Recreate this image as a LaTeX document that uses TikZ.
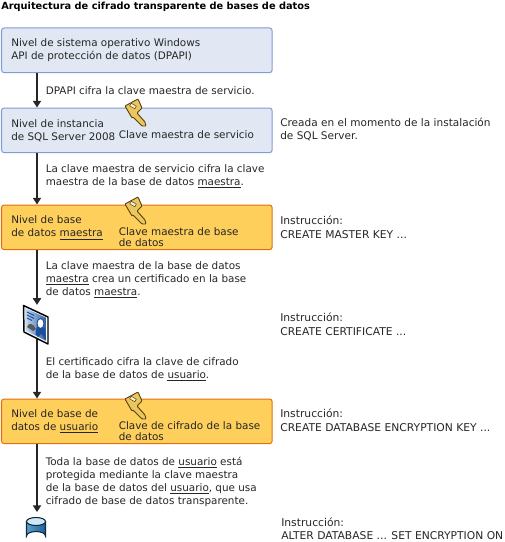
\documentclass[tikz,border=0pt]{standalone}
\usepackage{fontspec}
\usepackage{xcolor}
\setmainfont{DejaVu Sans}
\usetikzlibrary{arrows.meta}
\definecolor{tinta}{HTML}{262626}
\definecolor{azulfondo}{HTML}{E1E8F4}
\definecolor{azulborde}{HTML}{7F9DD3}
\definecolor{naranjafondo}{HTML}{FFCF5C}
\definecolor{naranjaborde}{HTML}{E3700F}
\definecolor{oro}{HTML}{EAC65E}
\definecolor{orooscuro}{HTML}{5A430C}
\definecolor{bdizq}{HTML}{5CA0CF}
\definecolor{bdmedio}{HTML}{BFE2F2}
\definecolor{bdder}{HTML}{1F5E96}
\definecolor{bdtapa}{HTML}{CFE8F5}
\definecolor{bdborde}{HTML}{12283F}
\definecolor{certclaro}{HTML}{C6DCF2}
\definecolor{certoscuro}{HTML}{2B5C9E}
\definecolor{certazul}{HTML}{1B4F9E}
\tikzset{nivel/.style={draw,rounded corners=2pt,line width=0.75pt,minimum width=203pt,minimum height=33.5pt,anchor=north west},
         nivelazul/.style={nivel,fill=azulfondo,draw=azulborde},
         nivelnaranja/.style={nivel,fill=naranjafondo,draw=naranjaborde},
         txt/.style={anchor=north west,inner sep=0pt,align=left,text=tinta,font=\fontsize{7.8}{9.95}\selectfont},
         nota/.style={txt,font=\fontsize{8.05}{9.95}\selectfont},
         clave/.style={txt,font=\fontsize{7.8}{8.4}\selectfont},
         flecha/.style={-{Triangle[length=5pt,width=6pt]},line width=1.4pt,draw=tinta},
         hueco/.style={inner sep=0pt,minimum width=19pt,minimum height=29pt},
         llave/.pic={
           \draw[orooscuro,line width=0.7pt,fill=oro,line join=round,rounded corners=0.6pt]
             (0,0) -- (13,-7) -- (17,2) -- (12,7) -- (20,16) -- (21,20) -- (17,20) -- (8,11) -- (7,12) -- cycle;
           \fill[white!80!oro,draw=orooscuro,line width=0.4pt,rotate around={-30:(8,0)}] (5,-1.5) rectangle (11,1.5);
         }}
\begin{document}
\begin{tikzpicture}[x=0.75pt,y=-0.75pt]
\useasboundingbox (0,0) rectangle (504,542);
\coordinate (eje) at (37,0);
% titulo
\node[txt,font=\fontsize{7.35}{9.9}\selectfont\bfseries,text=black] (titulo) at (1,2) {Arquitectura de cifrado transparente de bases de datos};
% niveles
\node[nivelazul] (nivelso) at (1,27.5) {};
\node[nivelazul] (nivelsql) at (1,107.5) {};
\node[nivelnaranja] (nivelmaestra) at (1,204.5) {};
\node[nivelnaranja] (nivelusuario) at (1,398.5) {};
% iconos, nodos vacios para las flechas
\node[hueco] (cert) at (36,324.5) {};
\node[hueco,minimum height=25pt] (bd) at (36,529) {};
% flechas
\draw[flecha] (nivelso.south -| eje) -- (nivelsql.north -| eje);
\draw[flecha] (nivelsql.south -| eje) -- (nivelmaestra.north -| eje);
\draw[flecha] (nivelmaestra.south -| eje) -- (cert.north -| eje);
\draw[flecha] (cert.center -| eje) -- (nivelusuario.north -| eje);
\draw[flecha] (nivelusuario.south -| eje) -- (bd.north -| eje);
% llaves
\pic at (125,106) {llave};
\pic at (125,204) {llave};
\pic at (125,399) {llave};
% certificado
\draw[black,line width=1.1pt,fill=white,line join=round] (23.5,305.5) -- (48,317) -- (48,344) -- (24,332) -- cycle;
\shade[left color=certclaro,right color=certoscuro] (25,308) -- (46.5,318) -- (46.5,341) -- (25.5,330.5) -- cycle;
\draw[certazul,line width=0.8pt] (27,312) -- (34,315.5) (27,315) -- (34,318.5) (27,318) -- (32,320.5);
\fill[certazul] (35.5,334) -- (37,325) -- (45,328) -- (46,340) -- (41.5,334) -- (38,337) -- cycle;
\fill[white,draw=certazul,line width=0.7pt] (40.5,323.5) ellipse (3.5 and 5);
\fill[black!65] (27,327) .. controls (29,322) and (33,323) .. (36,329) -- (33,331) -- cycle;
% base de datos
\shade[left color=bdizq,middle color=bdmedio,right color=bdder,draw=bdborde,line width=0.8pt] (26.5,521.5) -- (26.5,536) arc[start angle=180,end angle=360,x radius=9.5,y radius=4.5] -- (45.5,521.5) -- cycle;
\fill[bdtapa,draw=bdborde,line width=0.8pt] (36,521.5) ellipse (9.5 and 4);
% textos de los niveles
\node[txt] (tso) at (11,38) {Nivel de sistema operativo Windows\\API de protección de datos (DPAPI)};
\node[txt] (tsql) at (11,119) {Nivel de instancia\\de SQL Server 2008};
\node[txt] (tmaestra) at (11,215.5) {Nivel de base\\de datos \underline{maestra}};
\node[txt] (tusuario) at (11,409) {Nivel de base de\\datos de \underline{usuario}};
% claves
\node[clave] (cservicio) at (118.5,130) {Clave maestra de servicio};
\node[clave] (cbase) at (118.5,227) {Clave maestra de base\\de datos};
\node[clave] (ccifrado) at (118.5,421) {Clave de cifrado de la base\\de datos};
% textos de las flechas
\node[txt] (paso1) at (45.5,86) {DPAPI cifra la clave maestra de servicio.};
\node[txt] (paso2) at (45.5,164) {La clave maestra de servicio cifra la clave\\maestra de la base de datos \underline{maestra}.};
\node[txt] (paso3) at (45.5,261) {La clave maestra de la base de datos\\\underline{maestra} crea un certificado en la base\\de datos \underline{maestra}.};
\node[txt] (paso4) at (45.5,357) {El certificado cifra la clave de cifrado\\de la base de datos de \underline{usuario}.};
\node[txt] (paso5) at (45.5,456.5) {Toda la base de datos de \underline{usuario} está\\protegida mediante la clave maestra\\de la base de datos del \underline{usuario}, que usa\\cifrado de base de datos transparente.};
% instrucciones
\node[txt,font=\fontsize{7.9}{9.95}\selectfont] (nota1) at (280,117.5) {Creada en el momento de la instalación\\de SQL Server.};
\node[nota] (nota2) at (280,216) {Instrucción:\\CREATE MASTER KEY ...};
\node[nota] (nota3) at (280,313) {Instrucción:\\CREATE CERTIFICATE ...};
\node[nota] (nota4) at (280,409) {Instrucción:\\CREATE DATABASE ENCRYPTION KEY ...};
\node[nota] (nota5) at (281,517.5) {Instrucción:\\ALTER DATABASE ... SET ENCRYPTION ON};
\end{tikzpicture}
\end{document}
